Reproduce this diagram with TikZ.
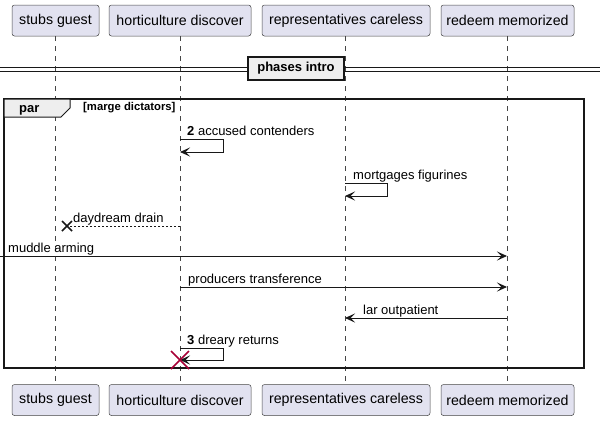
\documentclass[tikz,border=0pt]{standalone}
\usepackage{fontspec}
\setmainfont{Liberation Sans}
\usetikzlibrary{arrows.meta,calc}
\definecolor{partfill}{HTML}{E2E2F0}
\definecolor{lineclr}{HTML}{181818}
\definecolor{grpfill}{HTML}{EEEEEE}
\definecolor{destroyclr}{HTML}{A80036}
\begin{document}
\begin{tikzpicture}[x=1pt,y=-1pt,
  part/.style={draw=lineclr!80, line width=0.5pt, rounded corners=2.5pt, fill=partfill,
    minimum height=31pt, inner sep=0pt, font=\fontsize{14.2}{16}\selectfont},
  lifeline/.style={draw=lineclr!80, line width=0.5pt, dash pattern=on 5pt off 5pt},
  msg/.style={draw=lineclr, line width=0.9pt, -{Stealth[length=10pt,width=9pt,inset=4.5pt]}},
  mtext/.style={anchor=base west, inner sep=0pt, font=\fontsize{13}{15}\selectfont},
  btext/.style={inner sep=0pt, font=\bfseries\fontsize{13}{15}\selectfont}
]
\useasboundingbox (0,0) rectangle (600,421);
% participants
\node[part, minimum width=87pt]  (sg) at (55.5,20.5) {stubs guest};
\node[part, minimum width=142pt] (hd) at (180,20.5) {horticulture discover};
\node[part, minimum width=168pt] (rc) at (346,20.5) {representatives careless};
\node[part, minimum width=133pt] (rm) at (507.5,20.5) {redeem memorized};
\node[part, minimum width=87pt]  (sgb) at (55.5,400) {stubs guest};
\node[part, minimum width=142pt] (hdb) at (180,400) {horticulture discover};
\node[part, minimum width=168pt] (rcb) at (346,400) {representatives careless};
\node[part, minimum width=133pt] (rmb) at (507.5,400) {redeem memorized};
% lifelines
\draw[lifeline] (sg.south) -- (sgb.north);
\draw[lifeline] (hd.south) -- (hdb.north);
\draw[lifeline] (rc.south -| 345,0) -- (rcb.north -| 345,0);
\draw[lifeline] (rm.south -| 507,0) -- (rmb.north -| 507,0);
% divider
\draw[lineclr, line width=0.9pt] (0,67) -- (600,67);
\draw[lineclr, line width=0.9pt] (0,71) -- (600,71);
\node[draw=lineclr, line width=1.4pt, fill=grpfill, minimum width=96pt, minimum height=23pt, inner sep=0pt,
  font=\bfseries\fontsize{13}{15}\selectfont] (div) at (296,68.5) {phases intro};
% par frame
\draw[lineclr, line width=1.4pt] (4,99) rectangle (584,368);
\draw[lineclr, line width=1pt, fill=grpfill] (4,99) -- (70,99) -- (70,108) -- (61,117) -- (4,117) -- cycle;
\node[btext, anchor=base west] (parlbl) at (19,112) {par};
\node[inner sep=0pt, anchor=base west, font=\bfseries\fontsize{11.3}{13}\selectfont] (cond) at (83,110) {[marge dictators]};
% message 1: self on horticulture
\coordinate (a1) at (180,139);
\coordinate (a2) at (223,139);
\coordinate (a3) at (223,152);
\coordinate (a4) at (180,152);
\draw[msg] (a1) -- (a2) -- (a3) -- (a4);
\node[mtext] (t1) at (187,135) {\textbf{2} accused contenders};
% message 2: self on representatives
\coordinate (b1) at (345,183);
\coordinate (b2) at (387,183);
\coordinate (b3) at (387,196);
\coordinate (b4) at (345,196);
\draw[msg] (b1) -- (b2) -- (b3) -- (b4);
\node[mtext] (t2) at (353,179) {mortgages figurines};
% message 3: lost dashed
\coordinate (c1) at (180,226);
\coordinate (c2) at (67,226);
\draw[lineclr, line width=0.8pt, dash pattern=on 2pt off 2pt] (c1) -- (c2);
\draw[lineclr, line width=1.5pt] ($(c2)+(-5,-5)$) -- ($(c2)+(5,5)$) ($(c2)+(-5,5)$) -- ($(c2)+(5,-5)$);
\node[mtext] (t3) at (73,222) {daydream drain};
% message 4: from outside
\coordinate (d1) at (0,256);
\coordinate (d2) at (507,256);
\draw[msg] (d1) -- (d2);
\node[mtext] (t4) at (8,252) {muddle arming};
% message 5
\coordinate (e1) at (180,287);
\coordinate (e2) at (507,287);
\draw[msg] (e1) -- (e2);
\node[mtext] (t5) at (188,283) {producers transference};
% message 6
\coordinate (f1) at (507,318);
\coordinate (f2) at (345,318);
\draw[msg] (f1) -- (f2);
\node[mtext] (t6) at (363,314) {lar outpatient};
% message 7: self with destroy
\coordinate (g1) at (180,348);
\coordinate (g2) at (223,348);
\coordinate (g3) at (223,360);
\coordinate (g4) at (180,360);
\draw[msg] (g1) -- (g2) -- (g3) -- (g4);
\node[mtext] (t7) at (187,344) {\textbf{3} dreary returns};
\draw[destroyclr, line width=1.6pt] ($(g4)+(-9,-9)$) -- ($(g4)+(9,9)$) ($(g4)+(-9,9)$) -- ($(g4)+(9,-9)$);
\end{tikzpicture}
\end{document}
